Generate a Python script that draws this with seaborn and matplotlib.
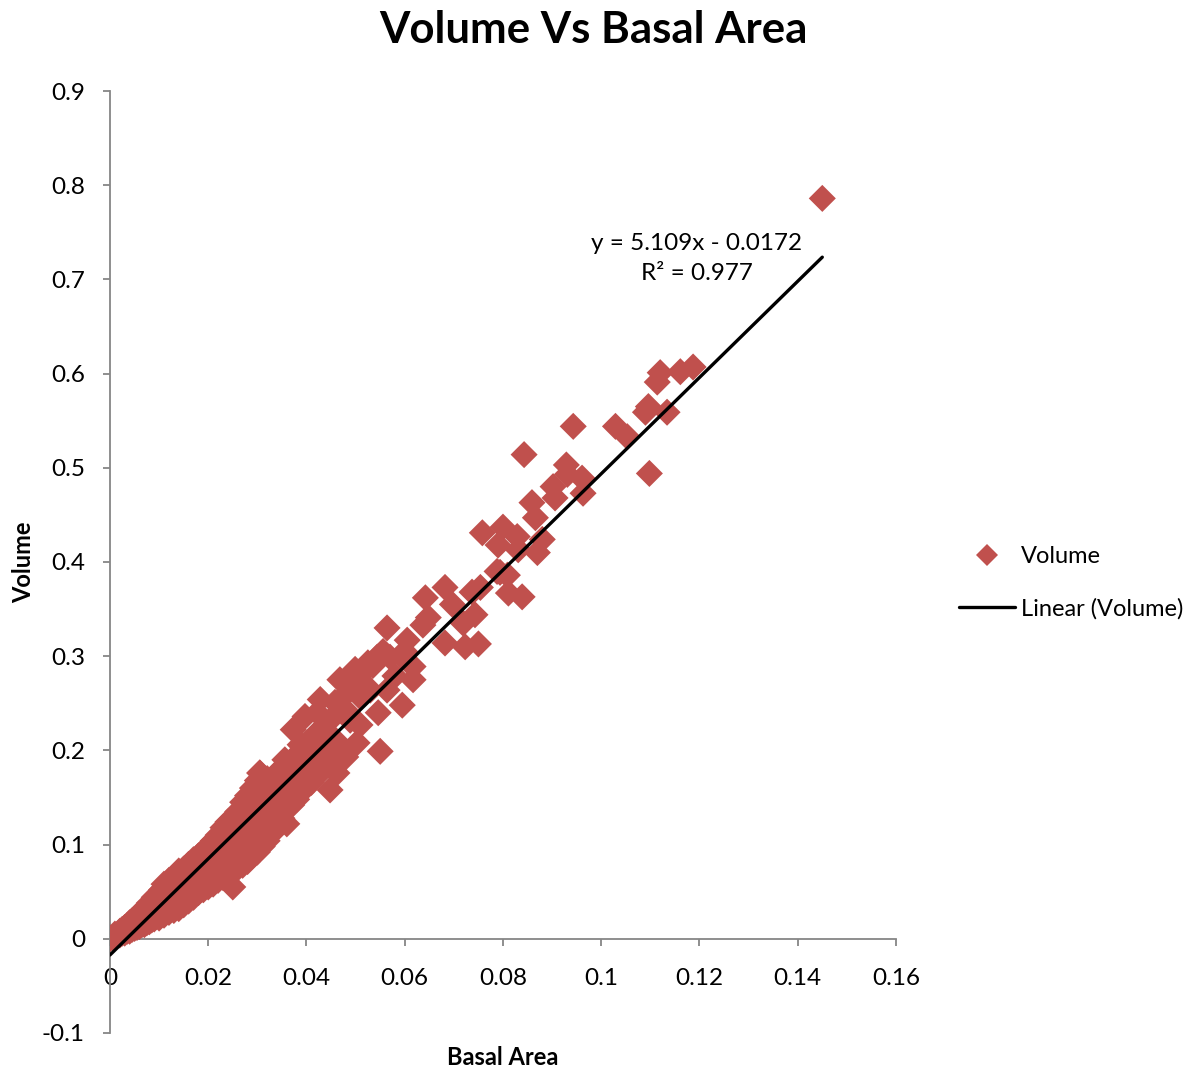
import matplotlib
matplotlib.use("Agg")
import matplotlib.pyplot as plt
from matplotlib.lines import Line2D
from matplotlib.ticker import FuncFormatter, MultipleLocator
import seaborn as sns
import pandas as pd

# Basal area (m^2) and stem volume (m^3) for each measured tree
basal_area = [
    0.0000, 0.0000, 0.0005, 0.0010, 0.0010, 0.0015, 0.0020, 0.0020, 0.0025, 0.0025, 0.0030, 0.0030, 0.0035, 0.0035,
    0.0040, 0.0040, 0.0040, 0.0045, 0.0045, 0.0050, 0.0050, 0.0050, 0.0055, 0.0055, 0.0060, 0.0060, 0.0060, 0.0065, 0.0065,
    0.0070, 0.0070, 0.0070, 0.0075, 0.0075, 0.0075, 0.0080, 0.0080, 0.0080, 0.0085, 0.0085, 0.0090, 0.0090, 0.0090, 0.0090,
    0.0095, 0.0095, 0.0100, 0.0100, 0.0100, 0.0105, 0.0105, 0.0105, 0.0110, 0.0110, 0.0110, 0.0110,
    0.0115, 0.0115, 0.0115, 0.0120, 0.0120, 0.0120, 0.0120, 0.0125, 0.0125, 0.0125,
    0.0130, 0.0130, 0.0130, 0.0130, 0.0135, 0.0135, 0.0135, 0.0140, 0.0140, 0.0140, 0.0140,
    0.0145, 0.0145, 0.0145, 0.0150, 0.0150, 0.0150, 0.0150, 0.0155, 0.0155, 0.0155,
    0.0160, 0.0160, 0.0160, 0.0160, 0.0165, 0.0165, 0.0165, 0.0170, 0.0170, 0.0170, 0.0170,
    0.0175, 0.0175, 0.0175, 0.0180, 0.0180, 0.0180, 0.0180, 0.0185, 0.0185, 0.0185,
    0.0190, 0.0190, 0.0190, 0.0190, 0.0195, 0.0195, 0.0195, 0.0200, 0.0200, 0.0200, 0.0200,
    0.0205, 0.0205, 0.0205, 0.0210, 0.0210, 0.0210, 0.0210, 0.0215, 0.0215, 0.0215,
    0.0220, 0.0220, 0.0220, 0.0220, 0.0225, 0.0225, 0.0225, 0.0230, 0.0230, 0.0230, 0.0230,
    0.0235, 0.0235, 0.0235, 0.0240, 0.0240, 0.0240, 0.0240, 0.0245, 0.0245, 0.0245,
    0.0250, 0.0250, 0.0250, 0.0250, 0.0250, 0.0255, 0.0255, 0.0255,
    0.0260, 0.0260, 0.0260, 0.0260, 0.0265, 0.0265, 0.0265, 0.0270, 0.0270, 0.0270, 0.0270,
    0.0275, 0.0275, 0.0275, 0.0280, 0.0280, 0.0280, 0.0280, 0.0285, 0.0285,
    0.0290, 0.0290, 0.0290, 0.0290, 0.0295, 0.0295, 0.0300, 0.0300, 0.0300, 0.0300,
    0.0305, 0.0305, 0.0305, 0.0310, 0.0310, 0.0310, 0.0315, 0.0315,
    0.0320, 0.0320, 0.0320, 0.0320, 0.0330, 0.0330, 0.0330, 0.0340, 0.0340, 0.0340, 0.0340,
    0.0350, 0.0350, 0.0350, 0.0360, 0.0360, 0.0360, 0.0360, 0.0370, 0.0370, 0.0370,
    0.0380, 0.0380, 0.0380, 0.0390, 0.0390, 0.0390, 0.0400, 0.0400, 0.0410, 0.0410,
    0.0420, 0.0420, 0.0430, 0.0440, 0.0440, 0.0448, 0.0450, 0.0470, 0.0480,
    0.0373, 0.0397, 0.0422, 0.0438, 0.0489, 0.0503, 0.0550, 0.0407, 0.0448, 0.0367, 0.0305, 0.0340, 0.0462,
    0.0458, 0.0475, 0.0509, 0.0489, 0.0513, 0.0525, 0.0544, 0.0570, 0.0595, 0.0564, 0.0595, 0.0546,
    0.0617, 0.0617, 0.0564, 0.0605, 0.0637, 0.0648, 0.0682, 0.0723, 0.0750, 0.0719, 0.0743, 0.0697,
    0.0642, 0.0682, 0.0754, 0.0737, 0.0788, 0.0790, 0.0758, 0.0800, 0.0829, 0.0831, 0.0870, 0.0880,
    0.0794, 0.0809, 0.0811, 0.0839, 0.0843, 0.0859, 0.0866, 0.0902, 0.0906, 0.0929, 0.0931, 0.0961, 0.0963,
    0.0943, 0.1029, 0.1053, 0.1098, 0.1096, 0.1090, 0.1134, 0.1114, 0.1120, 0.1161, 0.1187, 0.1450,
    0.0468, 0.0499, 0.0530, 0.0428, 0.0479, 0.0448, 0.0509, 0.0418, 0.0387, 0.0468, 0.0356, 0.0428, 0.0397,
    0.0556, 0.0580, 0.0535, 0.0600,
]

volume = [
    0.000, 0.001, 0.001, 0.002, 0.005, 0.004, 0.004, 0.008, 0.006, 0.010, 0.006, 0.012, 0.008, 0.014,
    0.008, 0.012, 0.017, 0.010, 0.019, 0.011, 0.015, 0.021, 0.012, 0.024, 0.013, 0.018, 0.027, 0.015, 0.022,
    0.015, 0.020, 0.030, 0.017, 0.026, 0.034, 0.018, 0.024, 0.038, 0.020, 0.030, 0.021, 0.028, 0.036, 0.044,
    0.024, 0.040, 0.022, 0.032, 0.048, 0.027, 0.037, 0.052, 0.025, 0.034, 0.045, 0.058,
    0.030, 0.041, 0.050, 0.028, 0.038, 0.048, 0.062, 0.033, 0.044, 0.055,
    0.030, 0.041, 0.052, 0.066, 0.036, 0.047, 0.058, 0.032, 0.044, 0.056, 0.072,
    0.040, 0.050, 0.063, 0.036, 0.048, 0.060, 0.074, 0.043, 0.055, 0.068,
    0.040, 0.052, 0.064, 0.079, 0.047, 0.060, 0.072, 0.044, 0.057, 0.068, 0.084,
    0.052, 0.064, 0.076, 0.049, 0.060, 0.072, 0.088, 0.056, 0.068, 0.080,
    0.052, 0.064, 0.077, 0.093, 0.060, 0.072, 0.085, 0.055, 0.068, 0.081, 0.098,
    0.064, 0.076, 0.090, 0.058, 0.072, 0.086, 0.104, 0.068, 0.080, 0.094,
    0.062, 0.076, 0.090, 0.110, 0.071, 0.085, 0.100, 0.065, 0.080, 0.095, 0.118,
    0.075, 0.090, 0.106, 0.068, 0.084, 0.100, 0.124, 0.080, 0.095, 0.112,
    0.055, 0.072, 0.088, 0.105, 0.128, 0.084, 0.100, 0.116,
    0.075, 0.092, 0.110, 0.135, 0.088, 0.105, 0.122, 0.078, 0.096, 0.114, 0.145,
    0.092, 0.110, 0.128, 0.082, 0.100, 0.120, 0.152, 0.105, 0.135,
    0.088, 0.112, 0.128, 0.160, 0.118, 0.140, 0.092, 0.118, 0.135, 0.168,
    0.125, 0.150, 0.176, 0.098, 0.122, 0.142, 0.130, 0.155,
    0.104, 0.128, 0.148, 0.170, 0.112, 0.135, 0.156, 0.118, 0.140, 0.162, 0.176,
    0.128, 0.150, 0.170, 0.122, 0.158, 0.175, 0.183, 0.142, 0.165, 0.185,
    0.148, 0.172, 0.195, 0.156, 0.180, 0.205, 0.162, 0.185, 0.166, 0.195,
    0.172, 0.200, 0.180, 0.185, 0.212, 0.158, 0.192, 0.200, 0.193,
    0.222, 0.236, 0.240, 0.222, 0.232, 0.208, 0.199, 0.197, 0.193, 0.183, 0.176, 0.176, 0.176,
    0.251, 0.257, 0.257, 0.272, 0.282, 0.293, 0.299, 0.299, 0.299, 0.264, 0.248, 0.240,
    0.289, 0.275, 0.330, 0.317, 0.333, 0.341, 0.314, 0.310, 0.313, 0.335, 0.344, 0.355,
    0.362, 0.373, 0.373, 0.368, 0.390, 0.418, 0.431, 0.437, 0.427, 0.413, 0.410, 0.424,
    0.389, 0.386, 0.367, 0.363, 0.514, 0.463, 0.447, 0.480, 0.468, 0.503, 0.493, 0.489, 0.473,
    0.544, 0.544, 0.533, 0.494, 0.565, 0.559, 0.559, 0.591, 0.601, 0.602, 0.607, 0.786,
    0.275, 0.286, 0.264, 0.254, 0.243, 0.232, 0.227, 0.217, 0.206, 0.206, 0.190, 0.190, 0.169,
    0.305, 0.279, 0.290, 0.305,
]

# Linear trend line coefficients
trend_slope = 5.109
trend_intercept = -0.0172
trend_r2 = 0.977

x_ticks = [0, 0.02, 0.04, 0.06, 0.08, 0.10, 0.12, 0.14, 0.16]
y_ticks = [-0.1, 0, 0.1, 0.2, 0.3, 0.4, 0.5, 0.6, 0.7, 0.8, 0.9]

POINT_COLOR = "#C0504D"
AXIS_COLOR = "#868686"
FONT = ["Lato", "DejaVu Sans"]

sns.set_style("white")
plt.rcParams["font.family"] = FONT
plt.rcParams["text.color"] = "black"
plt.rcParams["axes.labelcolor"] = "black"

df = pd.DataFrame({"Basal Area": basal_area, "Volume": volume})
x_end = max(basal_area)
trend = pd.DataFrame({"Basal Area": [0.0, x_end]})
trend["Volume"] = trend_slope * trend["Basal Area"] + trend_intercept

fig = plt.figure(figsize=(11.98, 10.72), dpi=100)
ax = fig.add_axes([0.0918, 0.0364, 0.6561, 0.8787])

sns.scatterplot(data=df, x="Basal Area", y="Volume", marker="D", s=190,
                color=POINT_COLOR, edgecolor="none", linewidth=0, ax=ax, zorder=3)
sns.lineplot(data=trend, x="Basal Area", y="Volume", color="black",
             linewidth=2.4, ax=ax, zorder=4)

ax.set_xlim(x_ticks[0], x_ticks[-1])
ax.set_ylim(y_ticks[0], y_ticks[-1])
ax.xaxis.set_major_locator(MultipleLocator(0.02))
ax.yaxis.set_major_locator(MultipleLocator(0.1))
fmt = FuncFormatter(lambda v, p: f"{round(v, 4):g}")
ax.xaxis.set_major_formatter(fmt)
ax.yaxis.set_major_formatter(fmt)

for side in ("top", "right"):
    ax.spines[side].set_visible(False)
ax.spines["bottom"].set_position(("data", 0))
for side in ("left", "bottom"):
    ax.spines[side].set_color(AXIS_COLOR)
    ax.spines[side].set_linewidth(1.3)

ax.tick_params(axis="both", direction="out", length=5, width=1.3,
               color=AXIS_COLOR, labelsize=17.5, labelcolor="black")
ax.tick_params(axis="x", pad=16)
ax.tick_params(axis="y", pad=13)
ax.tick_params(left=True, bottom=True)

ax.set_xlabel("Basal Area", fontsize=17, fontweight="bold")
ax.set_ylabel("Volume", fontsize=17, fontweight="bold")
ax.xaxis.set_label_coords(0.5, -0.0265)
ax.yaxis.set_label_coords(-0.11, 0.5)
ax.xaxis.label.set_va("center")
ax.yaxis.label.set_va("center")

fig.text(593 / 1198, 1 - 30 / 1072, "Volume Vs Basal Area", ha="center", va="center",
         fontsize=31.5, fontweight="bold", color="black")

ax.text(0.1195, 0.7225, f"y = {trend_slope}x - {abs(trend_intercept)}\nR² = {trend_r2}",
        ha="center", va="center", fontsize=17.5, linespacing=1.55)

handles = [
    Line2D([], [], marker="D", linestyle="none", color=POINT_COLOR,
           markeredgewidth=0, markersize=11),
    Line2D([], [], color="black", linewidth=2.4),
]
leg = fig.legend(handles, ["Volume", "Linear (Volume)"], loc="center left",
                 bbox_to_anchor=(938 / 1198, 1 - 583 / 1072), frameon=False,
                 fontsize=17, handlelength=2.35, handletextpad=0.28, labelspacing=1.3)

fig.savefig("out.png", dpi=100)
